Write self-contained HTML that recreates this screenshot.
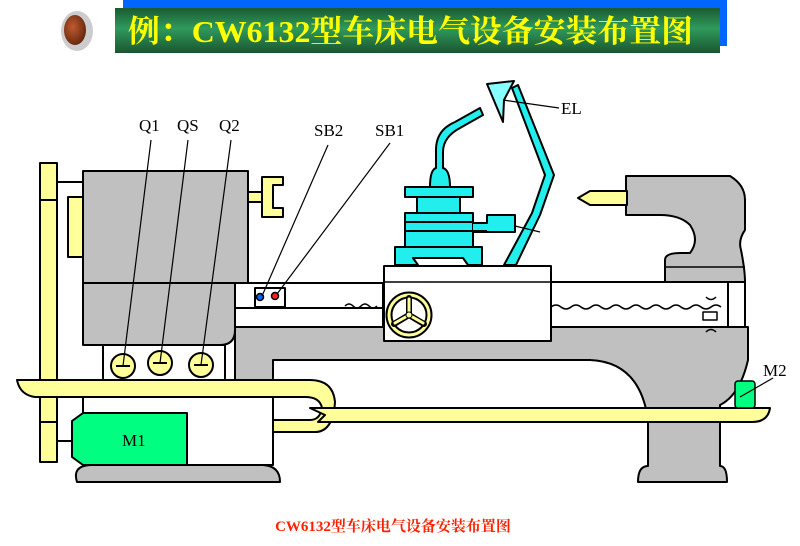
<!DOCTYPE html>
<html><head><meta charset="utf-8"><style>
body{margin:0;background:#fff;width:800px;height:546px;overflow:hidden;position:relative}
svg{position:absolute;left:0;top:0}
</style></head><body>
<svg width="800" height="546" viewBox="0 0 800 546" xmlns="http://www.w3.org/2000/svg">
<defs>
<linearGradient id="g" x1="0" y1="0" x2="0" y2="1">
<stop offset="0" stop-color="#1a5a32"/><stop offset="0.45" stop-color="#2f9a5c"/><stop offset="1" stop-color="#1b5530"/></linearGradient>
<radialGradient id="ic" cx="0.4" cy="0.4" r="0.6"><stop offset="0" stop-color="#c05a30"/><stop offset="1" stop-color="#6a2a10"/></radialGradient>
</defs>
<!-- title -->
<rect x="123" y="0" width="604" height="46" fill="#0066ff"/>
<rect x="115" y="8" width="605" height="45" fill="url(#g)"/>
<text x="128" y="42" textLength="565" lengthAdjust="spacingAndGlyphs" font-family="Liberation Serif, Noto Serif CJK SC, serif" font-weight="bold" font-size="31" fill="#ffff00">例：CW6132型车床电气设备安装布置图</text>
<ellipse cx="77" cy="31" rx="16" ry="20" fill="#ccc"/>
<ellipse cx="75" cy="30" rx="11" ry="15" fill="url(#ic)"/>

<g stroke="#000" stroke-width="2" stroke-linejoin="round">
<rect x="40" y="163" width="17" height="299" fill="#ffff99"/>
<line x1="40" y1="200" x2="57" y2="200"/><line x1="40" y1="422" x2="57" y2="422"/>
<line x1="57" y1="182" x2="83" y2="182"/><line x1="57" y1="441" x2="72" y2="441"/>
<rect x="68" y="197" width="15" height="60" fill="#ffff99"/>
<path d="M235 283 L383 283 L383 327 L748 327 L748 360 Q740 395 720 405 L720 466 Q727 466 727 482 L638 482 Q638 466 648 466 L648 420 Q640 362 590 360 L273 360 L273 397 L235 397 Z" fill="#c0c0c0"/>
<path d="M83 171 L248 171 L248 283 L235 283 L235 330 Q235 345 220 345 L83 345 Z" fill="#c0c0c0"/>
<line x1="83" y1="283" x2="235" y2="283"/>
<rect x="235" y="283" width="148" height="44" fill="#fff"/>
<line x1="235" y1="308" x2="383" y2="308"/>
<rect x="551" y="282" width="194" height="45" fill="#fff"/>
<rect x="728" y="282" width="17" height="45" fill="#fff"/>
<path d="M345 306 q4 -4 8 0 q4 4 8 0 q4 -4 8 0 q4 4 8 0 M551 307 q5 -4 10 0 q5 4 10 0 q5 -4 10 0 q5 4 10 0 q5 -4 10 0 q5 4 10 0 q5 -4 10 0 q5 4 10 0 q5 -4 10 0 q5 4 10 0 q5 -4 10 0 q5 4 10 0 q5 -4 10 0 q5 4 10 0 q5 -4 10 0 q5 4 10 0 q5 -4 10 0" fill="none" stroke-width="1.5"/>
<path d="M706 297 q5 5 10 0 M706 332 q5 -5 10 0" fill="none" stroke-width="1.5"/>
<rect x="703" y="312" width="14" height="8" fill="#fff" stroke-width="1.5"/>
<path d="M626 176 L730 176 Q745 185 745 200 L745 230 Q738 240 741 250 Q745 270 745 282 L665 282 L665 260 Q665 253 680 253 L690 253 Q700 240 690 225 Q680 215 660 215 L626 215 Z" fill="#c0c0c0"/>
<line x1="665" y1="267" x2="745" y2="267" stroke-width="1.5"/>
<path d="M627 191 L590 191 L578 198 L590 205 L627 205 Z" fill="#ffff99"/>
<rect x="255" y="288" width="30" height="19" fill="#fff"/>
<circle cx="260" cy="297" r="3.5" fill="#0066ff" stroke-width="1.5"/>
<circle cx="275" cy="296" r="3.5" fill="#ff2020" stroke-width="1.5"/>
<path d="M103 345 L225 345 L225 380 Q220 393 205 393 Q190 393 185 383 Q178 395 162 395 Q148 395 143 383 Q135 395 120 395 Q103 393 103 380 Z" fill="#fff"/>
<circle cx="123" cy="366" r="12" fill="#ffff99"/><circle cx="160" cy="363" r="12" fill="#ffff99"/><circle cx="201" cy="365" r="12" fill="#ffff99"/>
<line x1="116" y1="366" x2="130" y2="366"/><line x1="153" y1="363" x2="167" y2="363"/><line x1="194" y1="365" x2="208" y2="365"/>
<rect x="83" y="397" width="190" height="68" fill="#fff"/>
<path d="M83 413 L187 413 L187 465 L83 465 L72 457 L72 421 Z" fill="#00ff80"/>
<path d="M77 482 Q72 466 90 465 L263 465 Q280 466 280 482 Z" fill="#c0c0c0"/>
<path d="M17 380 L310 380 Q333 380 335 402 Q333 432 315 432 L273 432 L273 420 L310 420 Q320 420 322 408 Q320 397 305 397 L35 397 Q20 395 17 380 Z" fill="#ffff99"/>
<path d="M310 408 L770 408 Q768 422 752 422 L318 422 L325 415 Z" fill="#ffff99"/>
<rect x="735" y="381" width="20" height="27" rx="3" fill="#00ff80" stroke-width="1.5"/>
<rect x="248" y="192" width="14" height="10" fill="#ffff99"/>
<path d="M262 177 L283 177 L283 185 L273 185 L273 208 L283 208 L283 217 L262 217 Z" fill="#ffff99"/>
<rect x="384" y="266" width="167" height="75" fill="#fff"/>
<line x1="384" y1="282" x2="551" y2="282" stroke-width="1.5"/>
</g>
<!-- handwheel -->
<circle cx="409" cy="315" r="20" fill="none" stroke="#000" stroke-width="7"/>
<circle cx="409" cy="315" r="20" fill="none" stroke="#ffff99" stroke-width="3"/>
<g stroke="#000" stroke-width="6" stroke-linecap="round"><line x1="409" y1="315" x2="409" y2="298"/><line x1="409" y1="315" x2="394" y2="324"/><line x1="409" y1="315" x2="424" y2="324"/></g>
<g stroke="#ffff99" stroke-width="3" stroke-linecap="round"><line x1="409" y1="315" x2="409" y2="299"/><line x1="409" y1="315" x2="395" y2="323"/><line x1="409" y1="315" x2="423" y2="323"/></g>
<circle cx="409" cy="315" r="3" fill="#ffff99" stroke="#000" stroke-width="1"/>
<g stroke="#000" stroke-width="2" stroke-linejoin="round">
<g fill="#22eeee">
<path d="M395 265 L395 247 L482 247 L482 265 L468 265 L463 258 L413 258 L418 265 Z"/>
<rect x="405" y="213" width="68" height="34"/>
<path d="M473 223 L487 223 L487 215 L515 215 L515 232 L487 232 L473 232"/>
<rect x="417" y="197" width="43" height="16"/>
<rect x="405" y="187" width="68" height="10"/>
<path d="M430 187 Q430 170 436 168 L436 150 Q436 130 455 122 L480 108 L483 115 L460 128 Q443 137 443 152 L443 168 Q450 170 450 187 Z"/>
<path d="M504 265 L532 213 L545 175 L512 88 L518 85 L554 175 L540 215 L516 265 Z"/>
</g>
<line x1="405" y1="222" x2="473" y2="222"/><line x1="405" y1="231" x2="487" y2="231"/>
<path d="M487 84 L514 81 L504 100 L503 122 Z" fill="#88ffff"/>
<line x1="515" y1="226" x2="540" y2="232" stroke-width="1.2"/>
</g>
<g stroke="#000" stroke-width="1.2">
<line x1="151" y1="140" x2="123" y2="366"/><line x1="188" y1="140" x2="160" y2="363"/><line x1="231" y1="140" x2="201" y2="365"/>
<line x1="328" y1="145" x2="262" y2="296"/><line x1="390" y1="143" x2="277" y2="294"/>
<line x1="559" y1="108" x2="503" y2="100"/><line x1="773" y1="378" x2="740" y2="397"/>
</g>
<g font-family="Liberation Serif, serif" font-size="17" fill="#000">
<text x="139" y="131">Q1</text><text x="177" y="131">QS</text><text x="219" y="131">Q2</text>
<text x="314" y="136">SB2</text><text x="375" y="136">SB1</text>
<text x="561" y="114">EL</text><text x="763" y="376">M2</text><text x="122" y="446">M1</text>
</g>
<text x="393" y="531" text-anchor="middle" font-family="Liberation Serif, Noto Serif CJK SC, serif" font-weight="bold" font-size="15" fill="#ff2000">CW6132型车床电气设备安装布置图</text>
</svg>
</body></html>
